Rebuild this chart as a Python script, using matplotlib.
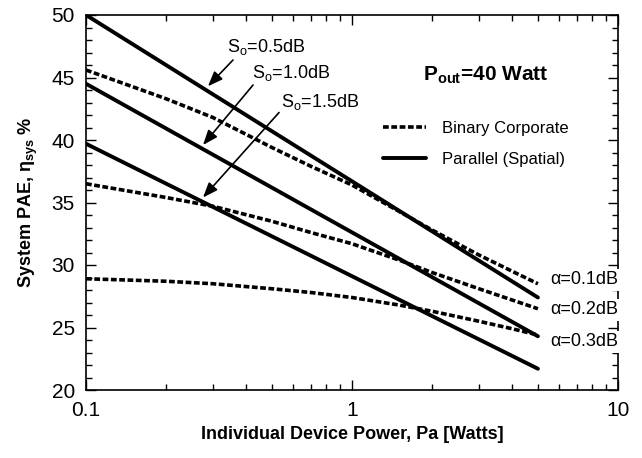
import numpy as np
import matplotlib
matplotlib.use("Agg")
import matplotlib.pyplot as plt
from matplotlib.ticker import MultipleLocator, FixedLocator, FixedFormatter, LogLocator, NullFormatter

plt.rcParams["font.family"] = ["Liberation Sans", "DejaVu Sans"]
plt.rcParams["mathtext.default"] = "regular"

# parallel (spatial) combiner - straight lines on log x
x_par = [0.1, 5.0]
par_05 = [50.0, 27.4]
par_10 = [44.5, 24.3]
par_15 = [39.7, 21.7]

# binary corporate combiner
x_bin = [0.1, 0.2, 0.3, 0.5, 0.7, 1.0, 1.5, 2.0, 3.0, 4.0, 5.0]
bin_01 = [45.6, 43.3, 41.8, 39.4, 37.9, 36.4, 34.3, 32.8, 30.8, 29.5, 28.5]
bin_02 = [36.5, 35.4, 34.7, 33.5, 32.6, 31.7, 30.4, 29.4, 28.1, 27.2, 26.5]
bin_03 = [28.9, 28.7, 28.5, 28.1, 27.8, 27.4, 26.8, 26.3, 25.5, 24.9, 24.4]

alpha_lbl = ["α=0.1dB", "α=0.2dB", "α=0.3dB"]
alpha_y = [28.8, 26.4, 23.85]
so_lbl = ["S$_o$=0.5dB", "S$_o$=1.0dB", "S$_o$=1.5dB"]

fig = plt.figure(figsize=(6.42, 4.58), dpi=100)
ax = fig.add_axes([86/642, 1-390/458, (618-86)/642, (390-15)/458])

dash = (0, (1.6, 0.7))
lw_s = 2.8
lw_d = 2.6
hb = None
for yy in [bin_01, bin_02, bin_03]:
    l, = ax.plot(x_bin, yy, color="black", lw=lw_d, linestyle=dash, solid_capstyle="butt")
    if hb is None:
        hb = l
hp = None
for yy in [par_05, par_10, par_15]:
    l, = ax.plot(x_par, yy, color="black", lw=lw_s, solid_capstyle="round")
    if hp is None:
        hp = l

ax.set_xscale("log")
ax.set_xlim(0.1, 10)
ax.set_ylim(20, 50)
ax.xaxis.set_major_locator(FixedLocator([0.1, 1, 10]))
ax.xaxis.set_major_formatter(FixedFormatter(["0.1", "1", "10"]))
ax.xaxis.set_minor_locator(LogLocator(base=10, subs=np.arange(2, 10)))
ax.xaxis.set_minor_formatter(NullFormatter())
ax.yaxis.set_major_locator(MultipleLocator(5))
ax.yaxis.set_minor_locator(MultipleLocator(1))
ax.tick_params(which="both", direction="in", top=True, right=True, width=1.0, labelsize=15)
ax.tick_params(which="major", length=7, pad=8)
ax.tick_params(which="minor", length=4)
for s in ax.spines.values():
    s.set_linewidth(1.2)

ax.set_xlabel("Individual Device Power, Pa [Watts]", fontsize=13, fontweight="bold", labelpad=4)
ax.set_ylabel("System PAE, $\\eta_{sys}$ %", fontsize=13, fontweight="bold", labelpad=8)

# S_o annotations
tips = [(0.2874, 44.3), (0.2754, 39.6), (0.2754, 35.4)]
tails = [(0.357, 46.4), (0.4246, 44.4), (0.5317, 42.2)]
txt_pos = [(0.339, 47.45), (0.4207, 45.35), (0.5408, 43.05)]
for i in range(3):
    ax.annotate("", xy=tips[i], xytext=tails[i],
                arrowprops=dict(arrowstyle="-|>,head_length=0.9,head_width=0.35", color="black", lw=1.2,
                                shrinkA=0, shrinkB=0))
    ax.text(txt_pos[i][0], txt_pos[i][1], so_lbl[i], fontsize=13, ha="left", va="center")

# alpha labels at right
for i, yl in enumerate(alpha_y):
    ax.text(1.0, yl, alpha_lbl[i], transform=ax.get_yaxis_transform(), fontsize=13,
            ha="right", va="center", zorder=5,
            bbox=dict(facecolor="white", edgecolor="none", pad=1.5))

ax.text(423/642, 1-75/458, "P$_{out}$=40 Watt", transform=fig.transFigure, fontsize=15,
        fontweight="bold", ha="left", va="center")

ax.legend([hb, hp], ["Binary Corporate", "Parallel (Spatial)"], loc="upper left",
          bbox_to_anchor=(383/642, 1-121/458), bbox_transform=fig.transFigure,
          frameon=False, fontsize=12, handlelength=2.6, handletextpad=0.95,
          labelspacing=0.98, borderpad=0, borderaxespad=0)

fig.savefig("out.png", dpi=100)
